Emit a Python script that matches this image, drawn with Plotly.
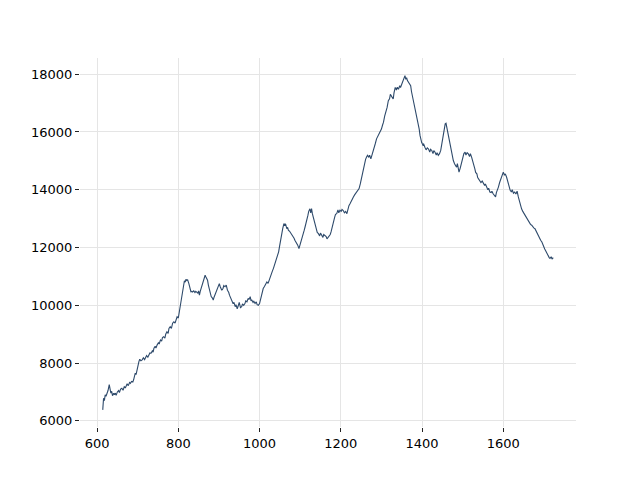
import plotly.graph_objects as go

pts = """614 6380
616 6780
618 6700
620 6900
622 6850
625 6960
627 7050
630 7250
632 7150
634 6960
636 7020
638 6870
641 6950
643 6900
645 6960
647 6880
650 7000
653 7050
655 6980
658 7100
661 7130
664 7060
667 7180
670 7150
674 7280
677 7220
680 7330
682 7300
685 7360
688 7340
690 7420
692 7520
694 7650
696 7600
698 7760
701 7900
703 8050
705 8130
708 8080
711 8110
714 8180
717 8120
719 8200
722 8260
725 8200
727 8280
730 8350
733 8340
736 8420
738 8380
740 8510
743 8580
745 8520
748 8630
751 8700
753 8660
756 8800
759 8760
761 8880
764 8910
767 8860
769 9000
772 9080
775 9030
777 9200
780 9260
783 9200
786 9380
789 9430
792 9380
794 9520
797 9600
800 9560
802 9750
805 9950
807 10150
809 10350
811 10550
813 10700
815 10850
817 10800
819 10900
821 10860
823 10880
826 10750
828 10600
831 10470
833 10480
835 10460
838 10500
841 10440
843 10480
845 10460
848 10420
850 10500
852 10350
854 10480
856 10560
858 10640
861 10800
863 10920
866 11040
868 10980
870 10900
872 10870
874 10700
876 10560
878 10460
881 10300
884 10250
886 10180
888 10280
891 10380
893 10460
895 10520
898 10600
901 10750
903 10650
905 10600
907 10520
910 10580
912 10680
915 10640
918 10700
921 10520
924 10450
926 10350
929 10250
932 10120
935 10050
937 10100
940 9950
942 10020
945 9880
948 10000
950 10100
953 9920
956 9950
958 10050
961 10000
964 10060
966 10150
969 10120
972 10240
974 10200
977 10300
979 10150
981 10180
984 10100
986 10140
989 10060
992 10120
994 10020
997 10000
1000 10060
1003 10240
1006 10400
1009 10580
1012 10650
1015 10720
1018 10810
1021 10760
1024 10900
1026 10930
1029 11050
1032 11200
1034 11270
1037 11400
1040 11500
1042 11560
1045 11700
1047 11850
1049 12020
1051 12200
1053 12350
1055 12480
1057 12650
1060 12830
1062 12780
1064 12820
1067 12650
1069 12700
1071 12600
1074 12560
1077 12500
1079 12480
1082 12380
1085 12320
1087 12250
1090 12180
1092 12100
1094 12080
1097 11960
1099 12050
1101 12150
1104 12250
1107 12400
1110 12600
1112 12710
1115 12850
1117 13000
1119 13110
1121 13250
1124 13340
1126 13200
1128 13350
1130 13170
1132 13050
1134 12900
1137 12710
1140 12600
1142 12520
1145 12480
1148 12400
1150 12500
1153 12420
1156 12350
1158 12450
1161 12420
1164 12380
1166 12300
1169 12360
1172 12400
1174 12450
1176 12540
1179 12750
1182 12940
1185 13050
1187 13150
1190 13170
1193 13300
1195 13200
1198 13290
1201 13250
1203 13320
1206 13280
1209 13200
1212 13250
1215 13170
1218 13350
1220 13450
1223 13520
1226 13620
1228 13700
1231 13750
1234 13820
1236 13860
1239 13920
1242 13980
1245 14040
1248 14200
1250 14350
1252 14440
1255 14700
1258 14900
1261 15050
1264 15150
1266 15190
1269 15120
1271 15200
1274 15070
1277 15200
1280 15360
1283 15500
1285 15600
1288 15760
1291 15850
1294 15950
1297 15990
1300 16100
1303 16250
1305 16330
1308 16550
1311 16680
1314 16850
1317 17080
1320 17150
1322 17300
1324 17250
1327 17200
1329 17140
1331 17350
1334 17540
1337 17450
1339 17550
1342 17480
1345 17600
1347 17540
1350 17650
1352 17780
1354 17830
1356 17900
1358 17950
1360 17820
1362 17880
1364 17780
1366 17720
1369 17650
1372 17600
1374 17400
1377 17200
1379 17030
1382 16850
1385 16680
1388 16500
1391 16280
1393 16100
1395 15880
1397 15750
1399 15640
1402 15550
1404 15580
1407 15470
1410 15380
1413 15450
1416 15410
1419 15300
1421 15400
1424 15360
1427 15250
1429 15350
1432 15300
1435 15200
1437 15280
1440 15190
1443 15250
1446 15360
1449 15600
1451 15800
1453 15990
1455 16150
1457 16280
1459 16300
1461 16150
1463 15990
1466 15750
1469 15530
1472 15300
1475 15150
1477 15010
1480 14900
1482 14850
1485 14780
1487 14900
1489 14650
1491 14610
1494 14750
1496 14850
1498 14950
1501 15100
1503 15250
1506 15300
1508 15200
1511 15280
1514 15240
1517 15150
1519 15250
1522 15130
1525 15000
1527 14850
1530 14720
1532 14600
1535 14550
1537 14420
1539 14380
1542 14300
1545 14250
1548 14300
1551 14210
1554 14150
1556 14200
1559 14090
1562 14000
1564 14050
1567 13920
1570 13900
1572 13950
1575 13860
1578 13800
1581 13750
1583 13900
1586 14000
1588 14090
1591 14250
1594 14380
1597 14500
1600 14610
1603 14500
1605 14550
1608 14440
1611 14250
1614 14090
1617 13980
1620 13920
1622 14000
1625 13880
1628 13920
1631 13850
1634 13950
1637 13750
1640 13600
1642 13450
1645 13340
1648 13250
1650 13200
1653 13170
1656 13050
1659 13000
1661 12940
1664 12850
1667 12800
1670 12770
1673 12700
1675 12680
1678 12650
1681 12550
1684 12480
1686 12420
1689 12350
1692 12250
1695 12190
1697 12100
1699 12020
1702 11950
1704 11900
1707 11800
1709 11750
1711 11730
1713 11650
1715 11620
1718 11680
1720 11600
1723 11650"""

x_values = [int(r.split()[0]) for r in pts.splitlines()]
y_values = [int(r.split()[1]) for r in pts.splitlines()]

x_ticks = [600, 800, 1000, 1200, 1400, 1600]
y_ticks = [6000, 8000, 10000, 12000, 14000, 16000, 18000]

fig = go.Figure()
fig.add_trace(go.Scatter(x=x_values, y=y_values, mode="lines",
                         line=dict(color="#2e4a6b", width=1.1)))

axis_common = dict(showgrid=True, gridcolor="#e5e5e5", gridwidth=1.3,
                   zeroline=False, showline=False, ticks="outside",
                   ticklen=4, tickwidth=1, tickcolor="#222222",
                   tickfont=dict(family="DejaVu Sans", size=13, color="#000000"))

fig.update_layout(
    width=632, height=472,
    margin=dict(l=72, r=64, t=50, b=53),
    plot_bgcolor="white", paper_bgcolor="white",
    showlegend=False,
    xaxis=dict(range=[558, 1779], tickvals=x_ticks, **axis_common),
    yaxis=dict(range=[5786, 18560], tickvals=y_ticks, tickformat="d", **axis_common),
)

fig.write_html("out.html")
